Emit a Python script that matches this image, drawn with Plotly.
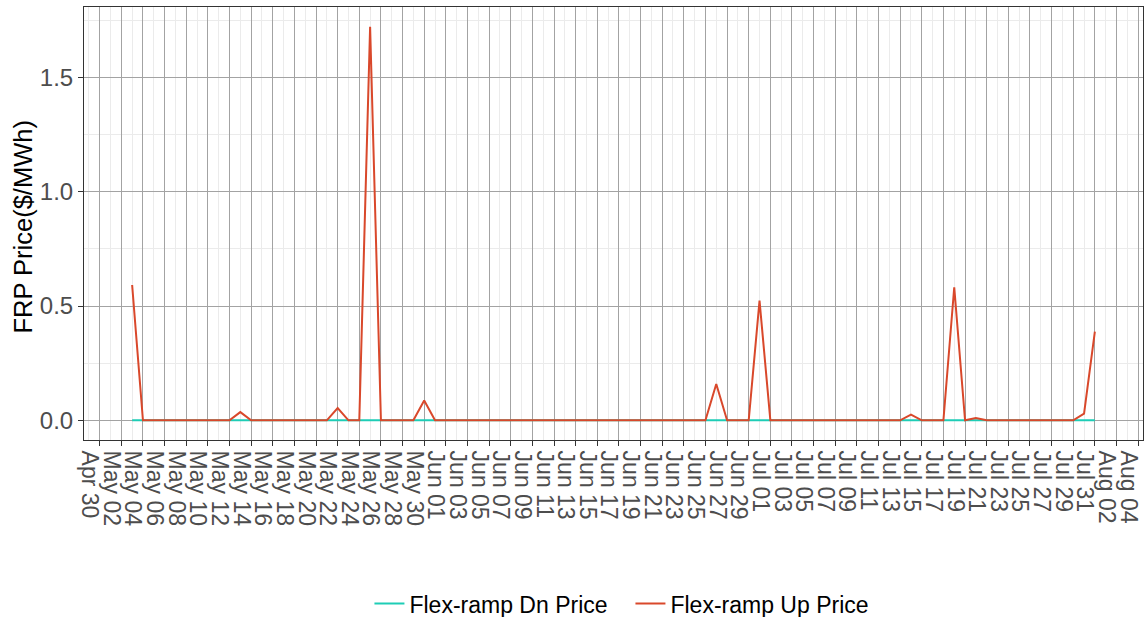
import plotly.graph_objects as go
import pandas as pd

dates = pd.date_range("2021-05-03", "2021-07-31", freq="D")

# Flex-ramp Up Price ($/MWh), daily May 03 .. Jul 31
up_price = [
    0.592, 0, 0, 0, 0, 0, 0, 0, 0, 0,          # May 03-12
    0.036, 0, 0, 0, 0, 0, 0, 0, 0,             # May 13-21
    0.054, 0, 0, 1.722, 0, 0, 0, 0,            # May 22-29
    0.087, 0,                                  # May 30-31
    0, 0, 0, 0, 0, 0, 0, 0, 0, 0,              # Jun 01-10
    0, 0, 0, 0, 0, 0, 0, 0, 0, 0,              # Jun 11-20
    0, 0, 0, 0, 0, 0.159, 0, 0, 0, 0.524,      # Jun 21-30
    0, 0, 0, 0, 0, 0, 0, 0, 0, 0,              # Jul 01-10
    0, 0, 0, 0.025, 0, 0, 0, 0.582, 0, 0.010,  # Jul 11-20
    0, 0, 0, 0, 0, 0, 0, 0, 0, 0.029, 0.388,   # Jul 21-31
]

# Flex-ramp Dn Price ($/MWh), daily May 03 .. Jul 31
dn_price = [
    0, 0, 0, 0, 0, 0, 0, 0, 0, 0,
    0, 0, 0, 0, 0, 0, 0, 0, 0,
    0, 0, 0, 0, 0, 0, 0, 0,
    0, 0,
    0, 0, 0, 0, 0, 0, 0, 0, 0, 0,
    0, 0, 0, 0, 0, 0, 0, 0, 0, 0,
    0, 0, 0, 0, 0, 0, 0, 0, 0, 0,
    0, 0, 0, 0, 0, 0, 0, 0, 0, 0,
    0, 0, 0, 0, 0, 0, 0, 0, 0, 0,
    0, 0, 0, 0, 0, 0, 0, 0, 0, 0, 0,
]

series_names = ["Flex-ramp Dn Price", "Flex-ramp Up Price"]
series_colors = ["#1ecdb6", "#d9482b"]
y_title = "FRP Price($/MWh)"

FONT = "Liberation Sans, Arial, Helvetica, sans-serif"
DAY = 86400000

fig = go.Figure()
fig.add_trace(go.Scatter(x=dates, y=dn_price, mode="lines", name=series_names[0],
                         line=dict(color=series_colors[0], width=2)))
fig.add_trace(go.Scatter(x=dates, y=up_price, mode="lines", name=series_names[1],
                         line=dict(color=series_colors[1], width=2)))

fig.update_layout(
    width=1146, height=617,
    margin=dict(l=83.5, r=2.5, t=7, b=177, autoexpand=False),
    paper_bgcolor="white", plot_bgcolor="white",
    font=dict(family=FONT, color="#4d4d4d", size=23),
    showlegend=True,
    legend=dict(orientation="h", x=0.516, xanchor="center", y=-0.378, yanchor="middle",
                font=dict(size=23, color="black", family=FONT),
                itemwidth=30, entrywidth=216, entrywidthmode="pixels",
                bgcolor="rgba(0,0,0,0)"),
    annotations=[dict(text=y_title, xref="paper", yref="paper", x=-0.058, y=0.492,
                      xanchor="center", yanchor="middle", textangle=-90, showarrow=False,
                      font=dict(size=25.5, color="black", family=FONT))],
)

fig.update_xaxes(
    type="date", automargin=False,
    range=["2021-04-28 13:12", "2021-08-04 10:48"],
    tick0="2021-04-30", dtick=2 * DAY, tickformat="%b %d",
    tickangle=90, ticklabelshift=-10,
    tickfont=dict(size=23, color="#4d4d4d", family=FONT),
    ticks="outside", ticklen=5, tickcolor="#333333", tickwidth=1,
    showgrid=True, gridcolor="#a3a3a3", gridwidth=1,
    minor=dict(dtick=DAY, tick0="2021-04-30", showgrid=True, gridcolor="#ebebeb", gridwidth=1, ticks=""),
    showline=True, linecolor="#333333", linewidth=1, mirror=True,
    zeroline=False,
)

fig.update_yaxes(
    automargin=False,
    range=[-0.086, 1.808],
    tick0=0, dtick=0.5, tickformat=".1f",
    tickfont=dict(size=24, color="#4d4d4d", family=FONT),
    ticks="outside", ticklen=5, tickcolor="#333333", tickwidth=1,
    showgrid=True, gridcolor="#a3a3a3", gridwidth=1,
    minor=dict(dtick=0.25, tick0=0, showgrid=True, gridcolor="#ebebeb", gridwidth=1, ticks=""),
    showline=True, linecolor="#333333", linewidth=1, mirror=True,
    zeroline=False,
)

fig.write_html("out.html", config={"displayModeBar": False},
               post_script="document.body.style.margin='0px';document.body.style.overflow='hidden';")
